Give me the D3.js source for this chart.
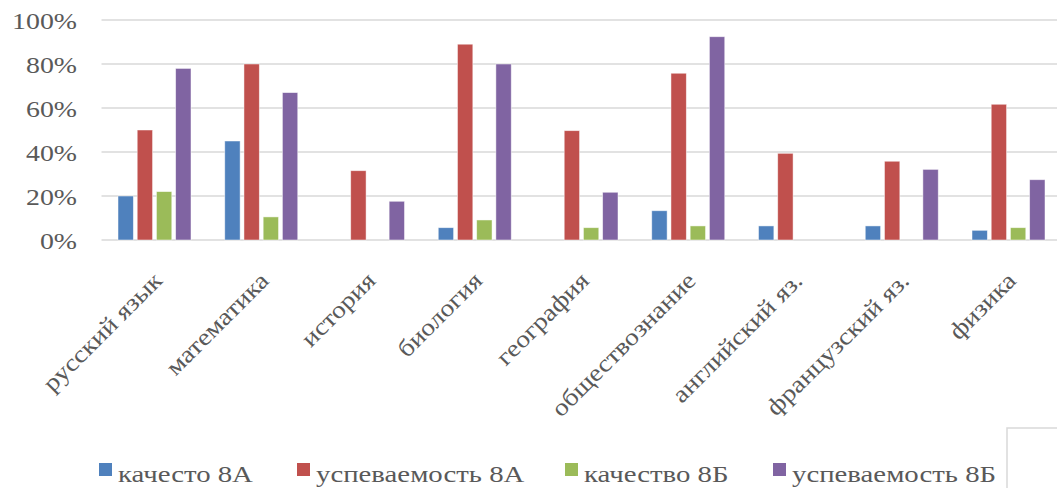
<!DOCTYPE html>
<html><head><meta charset="utf-8">
<script src="https://cdn.jsdelivr.net/npm/d3@7"></script>
<style>
html,body{margin:0;padding:0;background:#fff;}
svg{display:block;}
</style></head>
<body>
<svg id="chart" width="1057" height="488" font-family="'Liberation Serif', 'Times New Roman', Tinos, 'DejaVu Serif', serif"></svg>
<script>
const categories = ["русский язык","математика","история","биология","география","обществознание","английский яз.","французский яз.","физика"];
const seriesNames = ["качесто 8А","успеваемость 8А","качество 8Б","успеваемость 8Б"];
const kachestvo8A   = [20, 45, null, 5.6, null, 13.3, 6.4, 6.4, 4.4];
const uspevaemost8A = [50, 80, 31.5, 89, 49.7, 75.8, 39.4, 35.8, 61.7];
const kachestvo8B   = [22, 10.5, null, 9.1, 5.6, 6.4, null, null, 5.6];
const uspevaemost8B = [78, 67, 17.6, 80, 21.7, 92.4, null, 32.1, 27.4];
const yTicks = [0, 20, 40, 60, 80, 100];
const colors = ["#4f81bd","#c0504d","#9bbb59","#8064a2"];

const seriesValues = [kachestvo8A, uspevaemost8A, kachestvo8B, uspevaemost8B];

const svg = d3.select("#chart");
const plotLeft = 101.5, plotRight = 1062.25, plotTop = 20, plotBottom = 240;

const x0 = d3.scaleBand().domain(categories).range([plotLeft, plotRight]).padding(0);
const x1 = d3.scaleBand().domain(seriesNames).range([16.5, 89.5]).paddingInner(0.2).paddingOuter(0);
const y = d3.scaleLinear().domain([0, 100]).range([plotBottom, plotTop]);

// gridlines
svg.append("g").selectAll("line").data(yTicks).join("line")
  .attr("x1", plotLeft).attr("x2", 1057)
  .attr("y1", d => y(d)).attr("y2", d => y(d))
  .attr("stroke", "#d9d9d9").attr("stroke-width", 1.5);

// y tick labels
const sxY = 1.16;
svg.append("g").selectAll("text").data(yTicks).join("text")
  .attr("transform", d => `translate(77,${y(d)+8.5}) scale(${sxY},1)`)
  .attr("text-anchor", "end")
  .attr("font-size", 24)
  .attr("fill", "#595959")
  .text(d => d + "%");

// bars
const groups = svg.append("g").selectAll("g").data(categories).join("g")
  .attr("transform", d => `translate(${x0(d)},0)`);
groups.selectAll("rect")
  .data((c, i) => seriesNames.map((s, j) => ({s, j, v: seriesValues[j][i]})).filter(d => d.v != null))
  .join("rect")
  .attr("x", d => x1(d.s))
  .attr("width", x1.bandwidth())
  .attr("y", d => y(d.v))
  .attr("height", d => y(0) - y(d.v))
  .attr("fill", d => colors[d.j])
  .attr("stroke", "#ffffff").attr("stroke-opacity", 0.6).attr("stroke-width", 0.8);

// x labels
const sxX = 1.15;
svg.append("g").selectAll("text").data(categories).join("text")
  .attr("transform", d => `translate(${x0(d) + 53 + 9},282) rotate(-45) scale(${sxX},1)`)
  .attr("text-anchor", "end")
  .attr("font-size", 24)
  .attr("fill", "#595959")
  .text(d => d);

// legend
const legendX = [99, 297, 565, 773];
const sxL = 1.2;
const leg = svg.append("g").selectAll("g").data(seriesNames).join("g")
  .attr("transform", (d, i) => `translate(${legendX[i]},0)`);
leg.append("rect").attr("x", 0).attr("y", 463).attr("width", 13).attr("height", 13)
  .attr("fill", (d, i) => colors[i]);
leg.append("text")
  .attr("transform", `translate(19,482) scale(${sxL},1)`)
  .attr("font-size", 24)
  .attr("fill", "#595959")
  .text(d => d);

// small box at bottom-right
svg.append("rect").attr("x", 1007).attr("y", 428).attr("width", 60).attr("height", 70)
  .attr("fill", "#ffffff").attr("stroke", "#d9d9d9").attr("stroke-width", 1.5);
</script>
</body></html>
